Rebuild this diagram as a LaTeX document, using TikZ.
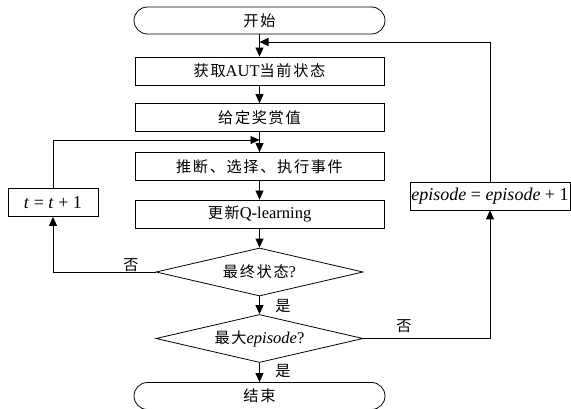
\documentclass[tikz,border=0pt]{standalone}
\usepackage{fontspec}
\setmainfont{Liberation Serif}
\newfontfamily\cjk[Scale=0.92,LetterSpace=11]{Noto Sans CJK SC}
\usetikzlibrary{shapes.geometric,arrows.meta}
\begin{document}
\begin{tikzpicture}[x=1pt,y=-1pt,line width=0.8pt,
  every node/.style={font=\fontsize{16.5}{19}\selectfont},
  term/.style={shape=rectangle,draw,rounded corners=13.5pt,minimum width=251pt,minimum height=27pt,inner sep=1pt},
  box/.style={shape=rectangle,draw,minimum width=249pt,minimum height=28pt,inner sep=1pt},
  test/.style={shape=diamond,draw,aspect=4.3,minimum width=207pt,minimum height=48pt,inner sep=0pt},
  side/.style={shape=rectangle,draw,minimum height=28pt,inner sep=1pt,font=\fontsize{18}{20}\selectfont},
  flow/.style={-{Triangle[length=9pt,width=8pt]}}]
\useasboundingbox (0,0) rectangle (571,409);
\node (A) at (259.5,20.5) [term]{\cjk 开始};
\node (B) at (259.5,71) [box]{{\cjk 获取}AUT{\cjk 当前状态}};
\node (C) at (259.5,117.5) [box]{\cjk 给定奖赏值};
\node (D) at (259.5,166.5) [box]{\cjk 推断、选择、执行事件};
\node (E) at (259.5,214) [box]{{\cjk 更新}Q-learning};
\node (F) at (259.5,272) [test]{{\cjk 最终状态}?};
\node (G) at (259.5,338.5) [test]{{\cjk 最大}\textit{episode}?};
\node (K) at (259.5,396) [term]{\cjk 结束};
\node (H) at (53,202.5) [side,minimum width=90pt]{\textit{t} = \textit{t} + 1};
\node (I) at (490,196) [side,minimum width=160pt]{\textit{episode} = \textit{episode} + 1};
\coordinate (J1) at (259.5,42);
\coordinate (J2) at (259.5,140);
\node (N1) at (131,265) {\cjk 否};
\node (Y1) at (283,306) {\cjk 是};
\node (N2) at (404,326) {\cjk 否};
\node (Y2) at (283,371) {\cjk 是};
\draw [flow] (A) to (B);
\draw [flow] (B) to (C);
\draw [flow] (C) to (D);
\draw [flow] (D) to (E);
\draw [flow] (E) to (F);
\draw [flow] (F) to (G);
\draw [flow] (G) to (K);
\draw [flow] (F.west) -| (H.south);
\draw [flow] (H.north) |- (J2);
\draw [flow] (G.east) -| (I.south);
\draw [flow] (I.north) |- (J1);
\end{tikzpicture}
\end{document}
